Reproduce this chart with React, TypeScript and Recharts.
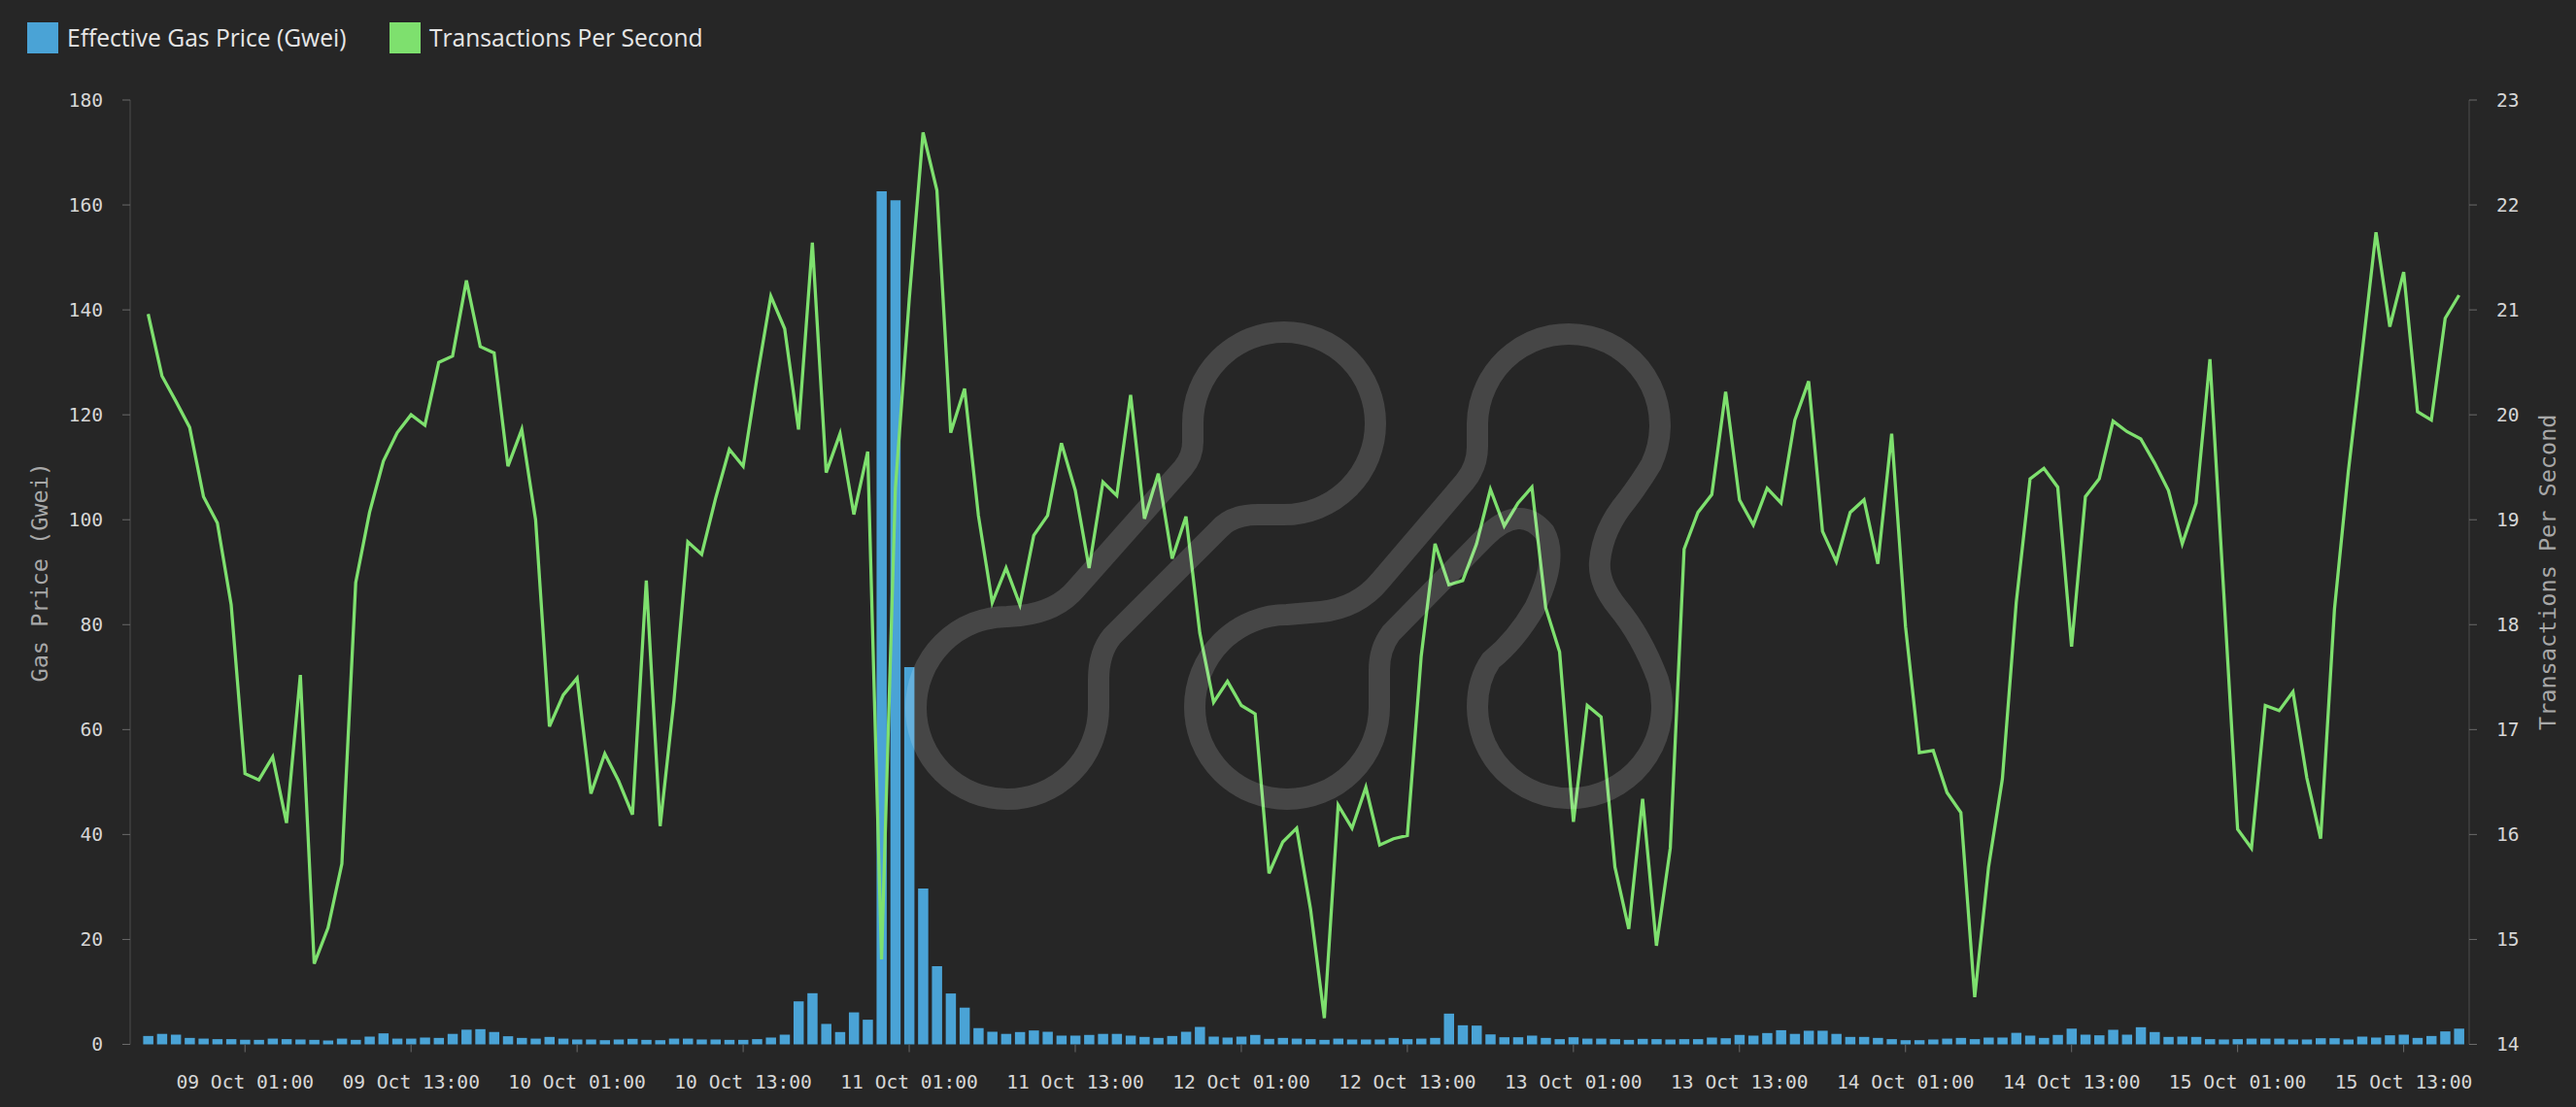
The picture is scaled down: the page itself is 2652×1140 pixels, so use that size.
import React from 'react';
import { ComposedChart, Bar, Line, XAxis, YAxis } from 'recharts';

const START_DAY = 8;
const START_HOUR = 18;
const HOURS = 168;
const categories: string[] = Array.from({ length: HOURS }, (_, i) => {
  const t = START_HOUR + i;
  const d = START_DAY + Math.floor(t / 24);
  const h = t % 24;
  return `${String(d).padStart(2, '0')} Oct ${String(h).padStart(2, '0')}:00`;
});

const gasPrice: number[] = [
  1.6, 2.0, 1.85, 1.23, 1.1, 1.0, 1.0, 0.86, 0.86, 1.1, 1.0, 0.93, 0.86, 0.74, 1.1, 0.86,
  1.48, 2.1, 1.1, 1.1, 1.3, 1.23, 2.0, 2.8, 2.9, 2.35, 1.55, 1.23, 1.1, 1.42, 1.1, 0.93,
  0.93, 0.8, 0.93, 1.05, 0.86, 0.8, 1.1, 1.1, 0.93, 0.93, 0.86, 0.86, 1.0, 1.3, 1.85, 8.2,
  9.75, 3.9, 2.35, 6.1, 4.7, 162.6, 160.9, 71.9, 29.7, 14.9, 9.7, 7.0, 3.1, 2.4,
  2.0, 2.35, 2.65, 2.4, 1.67, 1.67, 1.8, 2.0, 2.0, 1.67, 1.42, 1.23, 1.6, 2.4, 3.33, 1.48,
  1.3, 1.48, 1.8, 1.05, 1.23, 1.1, 1.0, 0.86, 1.1, 0.93, 0.93, 0.93, 1.23, 1.0, 1.1, 1.23,
  5.86, 3.64, 3.58, 1.9, 1.36, 1.36, 1.67, 1.23, 1.0, 1.36, 1.1, 1.1, 1.0, 0.86, 1.05, 1.0,
  0.93, 1.0, 1.0, 1.3, 1.17, 1.8, 1.67, 2.16, 2.7, 2.0, 2.6, 2.6, 2.0, 1.42, 1.42, 1.23,
  1.0, 0.8, 0.8, 0.93, 1.1, 1.23, 1.0, 1.3, 1.3, 2.2, 1.67, 1.23, 1.8, 3.0, 1.85, 1.73,
  2.78, 1.85, 3.27, 2.35, 1.42, 1.48, 1.42, 1.0, 0.93, 1.0, 1.1, 1.1, 1.1, 0.93, 0.93, 1.17,
  1.17, 0.93, 1.48, 1.3, 1.73, 1.85, 1.23, 1.6, 2.47, 3.0,
];

const tps: number[] = [
  20.96, 20.37, 20.13, 19.88, 19.22, 18.97, 18.19, 16.58, 16.52, 16.74, 16.11, 17.52, 14.77, 15.11, 15.72, 18.4,
  19.07, 19.56, 19.83, 20.0, 19.9, 20.5, 20.56, 21.28, 20.65, 20.59, 19.51, 19.86, 19.0, 17.03, 17.33, 17.49,
  16.39, 16.77, 16.51, 16.19, 18.42, 16.08, 17.28, 18.79, 18.67, 19.2, 19.67, 19.51, 20.35, 21.13, 20.82, 19.86,
  21.64, 19.45, 19.82, 19.05, 19.65, 14.81, 19.3, 21.1, 22.69, 22.14, 19.83, 20.25, 19.04, 18.21, 18.54, 18.19,
  18.85, 19.04, 19.73, 19.28, 18.54, 19.36, 19.23, 20.19, 19.01, 19.44, 18.63, 19.03, 17.92, 17.26, 17.46, 17.23,
  17.15, 15.63, 15.93, 16.06, 15.29, 14.25, 16.28, 16.06, 16.45, 15.9, 15.96, 15.99, 17.7, 18.77, 18.38, 18.42,
  18.77, 19.29, 18.94, 19.16, 19.31, 18.16, 17.74, 16.12, 17.23, 17.12, 15.69, 15.1, 16.34, 14.94, 15.87, 18.72,
  19.07, 19.24, 20.22, 19.19, 18.95, 19.3, 19.16, 19.95, 20.32, 18.89, 18.6, 19.07, 19.19, 18.58, 19.82, 17.98,
  16.78, 16.8, 16.4, 16.21, 14.45, 15.69, 16.53, 18.21, 19.39, 19.49, 19.31, 17.79, 19.22, 19.39, 19.94, 19.84,
  19.77, 19.54, 19.28, 18.77, 19.16, 20.53, 18.3, 16.05, 15.87, 17.23, 17.18, 17.36, 16.54, 15.96, 18.15, 19.46,
  20.59, 21.74, 20.84, 21.36, 20.03, 19.95, 20.92, 21.14,
];

const xTicks: string[] = [
  '09 Oct 01:00', '09 Oct 13:00', '10 Oct 01:00', '10 Oct 13:00', '11 Oct 01:00', '11 Oct 13:00',
  '12 Oct 01:00', '12 Oct 13:00', '13 Oct 01:00', '13 Oct 13:00', '14 Oct 01:00', '14 Oct 13:00',
  '15 Oct 01:00', '15 Oct 13:00',
];
const leftTicks: number[] = [0, 20, 40, 60, 80, 100, 120, 140, 160, 180];
const rightTicks: number[] = [14, 15, 16, 17, 18, 19, 20, 21, 22, 23];

const seriesNames = ['Effective Gas Price (Gwei)', 'Transactions Per Second'];
const leftTitle = 'Gas Price (Gwei)';
const rightTitle = 'Transactions Per Second';

const data = categories.map((time, i) => ({ time, gas: gasPrice[i], tps: tps[i] }));

const MONO = '"DejaVu Sans Mono", "Liberation Mono", monospace';
const SANS = '"Open Sans", "Noto Sans", sans-serif';
const BG = '#262626';
const BLUE = '#4aa3d6';
const GREEN = '#7ee06e';
const TICK_TEXT = '#d6d6d6';
const TITLE_TEXT = '#a8a8a8';

const AxisTitle = (props: any) => {
  const { viewBox, value, dx } = props;
  const x = viewBox.x + dx;
  const y = viewBox.y + viewBox.height / 2;
  return (
    <text
      x={x}
      y={y}
      transform={`rotate(-90, ${x}, ${y})`}
      textAnchor="middle"
      dominantBaseline="central"
      fill={TITLE_TEXT}
      fontFamily={MONO}
      fontSize={23.5}
    >
      {value}
    </text>
  );
};

const Watermark = () => (
  <svg
    width={2652}
    height={1140}
    style={{ position: 'absolute', left: 0, top: 0, pointerEvents: 'none' }}
  >
    <g fill="none" stroke="rgba(255,255,255,0.15)" strokeWidth={22} strokeLinejoin="round">
      <path d="M 1037 635 A 94 94 0 1 0 1131 729 L 1131 700 Q 1131 672 1145 655 L 1255 545 Q 1268 530 1295 530 L 1322 530 A 94 94 0 1 0 1228 436 L 1228 455 Q 1228 470 1218 482 L 1108 606 Q 1088 630 1050 634 Z" />
      <path d="M 1325 633 A 95 95 0 1 0 1420 728 L 1420 690 Q 1420 668 1432 652 L 1530 552 Q 1565 518 1590 548 Q 1605 575 1580 626 Q 1560 660 1535 680 Q 1521 700 1521 728 A 95 95 0 1 0 1707 700 Q 1690 655 1665 625 Q 1645 600 1647 578 Q 1650 545 1675 515 Q 1690 495 1700 478 A 94 94 0 1 0 1521 436 L 1521 460 Q 1521 480 1508 496 L 1421 598 Q 1398 626 1360 630 Z" />
    </g>
  </svg>
);

const LegendItem = ({ left, color, label }: { left: number; color: string; label: string }) => (
  <div style={{ position: 'absolute', left, top: 23, height: 32, display: 'flex', alignItems: 'center' }}>
    <div style={{ width: 32, height: 32, background: color }} />
    <span style={{ marginLeft: 9, fontFamily: SANS, fontSize: 24.6, color: '#e6e6e6', lineHeight: '32px', whiteSpace: 'nowrap' }}>
      {label}
    </span>
  </div>
);

export default function App() {
  return (
    <div style={{ position: 'absolute', left: 0, top: 0, width: 2652, height: 1140, background: BG, overflow: 'hidden' }}>
      <ComposedChart
        width={2652}
        height={1140}
        data={data}
        margin={{ top: 103, right: 0, bottom: 0, left: 0 }}
        barCategoryGap={0}
      >
        <XAxis
          dataKey="time"
          type="category"
          ticks={xTicks}
          interval={0}
          padding={{ left: 11.4, right: 3.3 }}
          height={64.5}
          axisLine={false}
          tickLine={{ stroke: '#6a6a6a' }}
          tickSize={8}
          tickMargin={23.5}
          tick={{ fill: TICK_TEXT, fontSize: 19.6, fontFamily: MONO }}
        />
        <YAxis
          yAxisId="left"
          orientation="left"
          width={134}
          domain={[0, 180]}
          ticks={leftTicks}
          interval={0}
          axisLine={{ stroke: '#4d4d4d' }}
          tickLine={{ stroke: '#6a6a6a' }}
          tickSize={8}
          tickMargin={20}
          tick={{ fill: TICK_TEXT, fontSize: 19.6, fontFamily: MONO }}
          label={<AxisTitle value={leftTitle} dx={40.6} />}
        />
        <YAxis
          yAxisId="right"
          orientation="right"
          width={110}
          domain={[14, 23]}
          ticks={rightTicks}
          interval={0}
          axisLine={{ stroke: '#4d4d4d' }}
          tickLine={{ stroke: '#6a6a6a' }}
          tickSize={8}
          tickMargin={20}
          tick={{ fill: TICK_TEXT, fontSize: 19.6, fontFamily: MONO }}
          label={<AxisTitle value={rightTitle} dx={81} />}
        />
        <Bar yAxisId="left" dataKey="gas" name={seriesNames[0]} fill={BLUE} barSize={10.5} isAnimationActive={false} />
        <Line
          yAxisId="right"
          dataKey="tps"
          name={seriesNames[1]}
          type="linear"
          stroke={GREEN}
          strokeWidth={3.3}
          dot={false}
          activeDot={false}
          isAnimationActive={false}
        />
      </ComposedChart>
      <Watermark />
      <LegendItem left={28} color={BLUE} label={seriesNames[0]} />
      <LegendItem left={401} color={GREEN} label={seriesNames[1]} />
    </div>
  );
}
